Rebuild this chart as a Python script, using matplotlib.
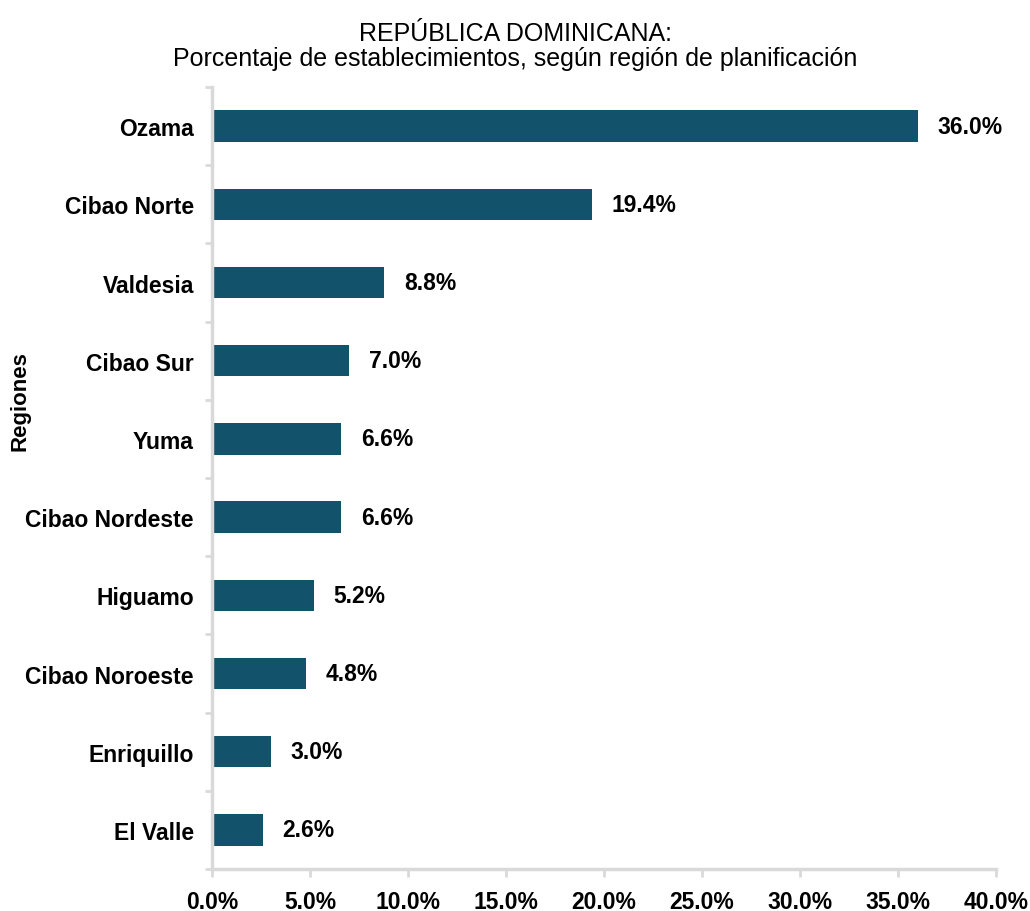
import matplotlib
matplotlib.use("Agg")
import matplotlib.pyplot as plt
import numpy as np

regiones = ["Ozama", "Cibao Norte", "Valdesia", "Cibao Sur", "Yuma",
            "Cibao Nordeste", "Higuamo", "Cibao Noroeste", "Enriquillo", "El Valle"]
porcentajes = [36.0, 19.4, 8.8, 7.0, 6.6, 6.6, 5.2, 4.8, 3.0, 2.6]
xticks = [0, 5, 10, 15, 20, 25, 30, 35, 40]

plt.rcParams['font.family'] = ['Liberation Sans', 'DejaVu Sans']

fig = plt.figure(figsize=(10.3, 9.12), dpi=100)
ax = fig.add_axes([0.2058, 0.046, 0.967 - 0.2058, 0.9035 - 0.046])

y = np.arange(len(regiones))
ax.barh(y, porcentajes, height=0.4, color='#13526b')
for yi, v in zip(y, porcentajes):
    ax.annotate(f"{v:.1f}%", (v, yi), xytext=(14, 0), textcoords='offset points',
                va='center', ha='left', fontsize=16.5, fontweight='bold')

ax.set_ylim(len(regiones) - 0.5, -0.5)
ax.set_xlim(0, 40)
ax.set_xticks(xticks)
ax.set_xticklabels([f"{t:.1f}%" for t in xticks], fontsize=16.5, fontweight='bold')
ax.set_yticks(y)
ax.set_yticklabels(regiones, fontsize=16.5, fontweight='bold')
ax.set_yticks(np.arange(-0.5, len(regiones)), minor=True)

for s in ['top', 'right']:
    ax.spines[s].set_visible(False)
for s in ['left', 'bottom']:
    ax.spines[s].set_color('#d9d9d9')
    ax.spines[s].set_linewidth(2.5)

ax.tick_params(axis='y', which='major', length=0, pad=13)
ax.tick_params(axis='y', which='minor', length=5, width=2, color='#d9d9d9')
ax.tick_params(axis='x', length=6, width=2, color='#d9d9d9', pad=9)

ax.set_ylabel("Regiones", fontsize=16, fontweight='bold')
ax.yaxis.set_label_coords(-0.232, 0.60)
# title is centred on the figure, not the axes
ax.set_title("REPÚBLICA DOMINICANA:\nPorcentaje de establecimientos, según región de planificación",
             fontsize=18, pad=16, linespacing=1.05, x=0.3865)

fig.savefig("out.png", dpi=100)
